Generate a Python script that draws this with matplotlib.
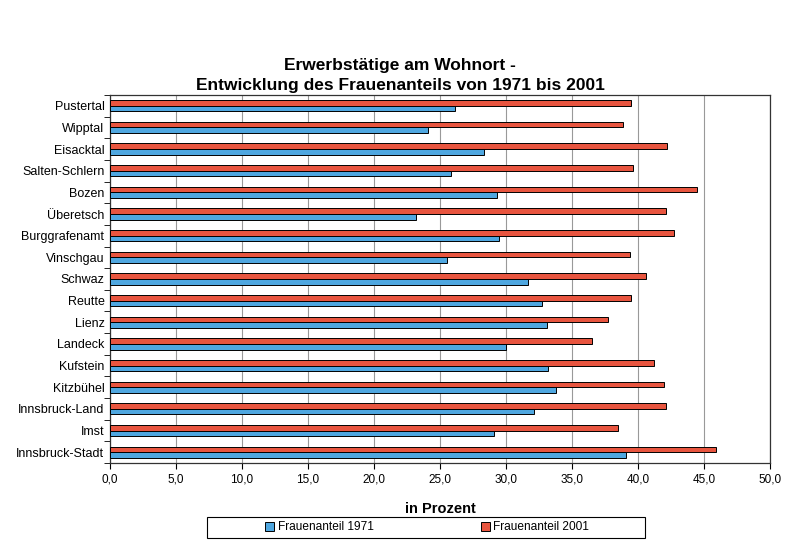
import matplotlib.pyplot as plt
import numpy as np
from matplotlib.patches import Rectangle
from matplotlib.ticker import FixedLocator, FuncFormatter

plt.rcParams['font.family'] = ['Liberation Sans', 'DejaVu Sans']

# categories, top to bottom as shown in the chart
regionen = ["Pustertal", "Wipptal", "Eisacktal", "Salten-Schlern", "Bozen",
            "Überetsch", "Burggrafenamt", "Vinschgau", "Schwaz", "Reutte",
            "Lienz", "Landeck", "Kufstein", "Kitzbühel", "Innsbruck-Land",
            "Imst", "Innsbruck-Stadt"]
anteil_1971 = [26.1, 24.1, 28.3, 25.8, 29.3, 23.2, 29.5, 25.5, 31.7, 32.7,
               33.1, 30.0, 33.2, 33.8, 32.1, 29.1, 39.1]
anteil_2001 = [39.5, 38.9, 42.2, 39.6, 44.5, 42.1, 42.7, 39.4, 40.6, 39.5,
               37.7, 36.5, 41.2, 42.0, 42.1, 38.5, 45.9]

blue = '#4FA7E0'
red = '#E8553F'

fig = plt.figure(figsize=(8, 5.54), dpi=100)
ax = fig.add_axes([0.1375, 0.1643, 0.825, 0.6642])

n = len(regionen)
y = np.arange(n)[::-1]  # first region on top
h = 0.26

ax.barh(y - h / 2, anteil_1971, height=h, color=blue, edgecolor='black',
        linewidth=0.7, label='Frauenanteil 1971', zorder=3)
ax.barh(y + h / 2, anteil_2001, height=h, color=red, edgecolor='black',
        linewidth=0.7, label='Frauenanteil 2001', zorder=3)

ax.set_xlim(0, 50)
ax.set_ylim(-0.5, n - 0.5)
ax.set_xticks(np.arange(0, 51, 5))
ax.xaxis.set_major_formatter(FuncFormatter(lambda v, p: f"{v:.1f}".replace('.', ',')))
ax.set_yticks(y)
ax.set_yticklabels(regionen)
ax.yaxis.set_minor_locator(FixedLocator(np.arange(-0.5, n, 1)))
ax.tick_params(axis='y', which='major', length=0, labelsize=9, pad=4)
ax.tick_params(axis='y', which='minor', length=4, direction='out')
ax.tick_params(axis='x', length=4, direction='out', labelsize=8.5)

ax.grid(axis='x', color='#999999', linewidth=0.8, zorder=0)
for s in ax.spines.values():
    s.set_color('#333333')
    s.set_linewidth(0.9)

ax.set_xlabel("in Prozent", fontsize=10.5, fontweight='bold', labelpad=12)
fig.suptitle("Erwerbstätige am Wohnort -\nEntwicklung des Frauenanteils von 1971 bis 2001",
             x=0.5, y=0.895, fontsize=12.5, fontweight='bold', linespacing=1.4)

# legend box (wider than its content, as in the original)
fig.patches.append(Rectangle((0.259, 0.029), 0.5475, 0.038, transform=fig.transFigure,
                             fill=False, edgecolor='black', linewidth=0.8))
fig.legend(loc='center', bbox_to_anchor=(0.534, 0.048), ncol=2, frameon=False,
           fontsize=8.6, handlelength=0.75, handleheight=0.75,
           columnspacing=9.0, handletextpad=0.3)

fig.savefig("out.png", dpi=100)
